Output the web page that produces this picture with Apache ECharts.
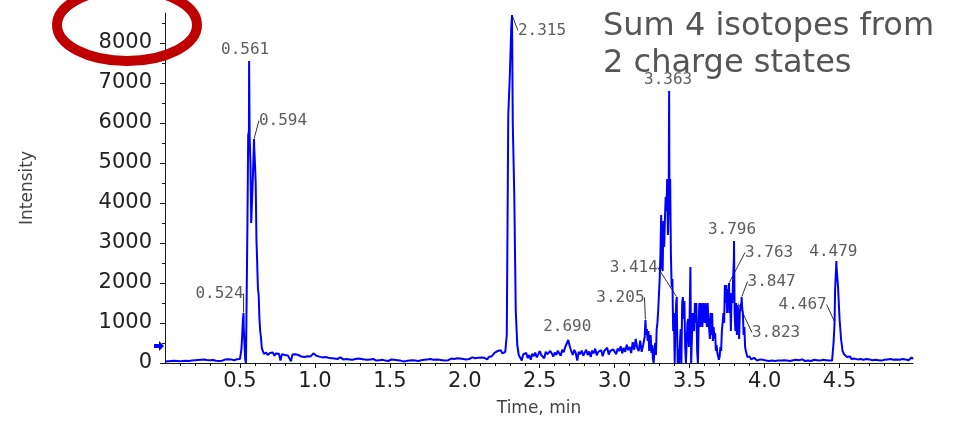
<!DOCTYPE html>
<html>
<head>
<meta charset="utf-8">
<script src="https://cdn.jsdelivr.net/npm/echarts@6/dist/echarts.min.js"></script>
<style>
  html, body { margin: 0; padding: 0; background: #ffffff; }
  #chart { width: 955px; height: 423px; }
</style>
</head>
<body>
<div id="chart"></div>
<script>
// Extracted ion chromatogram: summed intensity of 4 isotopes from 2 charge states.
// Scans are stored per time segment (start, step); labelled apex scans are kept separately.

// 0.00 - 0.49 min, every 0.01 min
const scansEarly = [
  40, 55, 45, 60, 50, 45, 55, 40, 50, 60,
  45, 55, 50, 40, 55, 65, 50, 45, 60, 55,
  70, 85, 75, 90, 80, 70, 85, 95, 75, 80,
  70, 60, 75, 65, 55, 60, 50, 65, 55, 70,
  85, 80, 95, 75, 90, 80, 70, 85, 95, 110
];

// 0.500 - 0.695 min, every 0.005 min
const scansPeak1 = [
  100, 150, 350, 700, 1100, 900, 500, 100, 0, 0,
  3500, 5700, 5800, 5600, 5000, 3500, 3450, 4500, 5100, 5400,
  5000, 4500, 3100, 2500, 1850, 1700, 1100, 800, 650, 400,
  320, 280, 230, 180, 220, 260, 230, 200, 170, 210
];

// 0.70 - 3.19 min, every 0.01 min
const scansMid = [
  250, 200, 260, 180, 240, 210, 230, 60, 220, 250,
  200, 240, 190, 230, 40, 210, 180, 220, 170, 200,
  190, 160, 200, 150, 180, 170, 210, 160, 190, 240,
  220, 180, 200, 160, 170, 140, 180, 150, 160, 130,
  140, 120, 150, 110, 130, 100, 120, 140, 110, 90,
  120, 100, 130, 90, 110, 80, 120, 100, 90, 110,
  80, 100, 70, 90, 110, 80, 60, 90, 70, 100,
  80, 60, 90, 70, 50, 80, 90, 60, 70, 50,
  70, 90, 60, 80, 50, 70, 100, 60, 80, 40,
  70, 50, 80, 60, 90, 70, 40, 60, 80, 50,
  60, 70, 50, 80, 60, 90, 70, 100, 60, 80,
  70, 90, 60, 80, 100, 70, 90, 60, 80, 70,
  90, 110, 80, 100, 70, 120, 90, 110, 80, 100,
  120, 90, 130, 100, 110, 140, 100, 120, 90, 130,
  110, 140, 100, 130, 120, 90, 150, 130, 170, 200,
  260, 220, 300, 250, 320, 240, 200, 280, 700, 6200,
  7150, 8400, 6000, 4200, 1300, 450, 200, 150, 60, 220,
  180, 250, 120, 200, 80, 230, 170, 260, 140, 210,
  300, 200, 250, 120, 280, 220, 180, 300, 240, 160,
  260, 200, 310, 240, 180, 330, 270, 400, 450, 575,
  420, 300, 200, 330, 250, 60, 280, 220, 310, 180,
  260, 330, 200, 290, 150, 310, 240, 360, 190, 280,
  230, 320, 170, 300, 260, 380, 210, 300, 250, 340,
  280, 220, 360, 300, 420, 240, 380, 280, 460, 320,
  400, 250, 520, 330, 600, 380, 300, 560, 280, 450
];

// 3.200 - 3.895 min, every 0.005 min
const scansDense = [
  650, 1075, 700, 850, 550, 800, 300, 600, 700, 250,
  450, 100, 0, 350, 500, 200, 850, 1000, 1300, 1700,
  2100, 2700, 3700, 2400, 2300, 3550, 2900, 3600, 4150, 3800,
  4600, 3200, 3900, 4500, 4600, 2700, 1900, 2100, 800, 1250,
  0, 900, 1500, 1200, 0, 350, 0, 500, 850, 0,
  1500, 1650, 1100, 1550, 400, 0, 0, 1000, 1100, 400,
  1200, 2400, 0, 600, 1250, 900, 800, 1500, 1000, 1500,
  300, 0, 1000, 1500, 900, 1500, 1500, 900, 1500, 1500,
  1000, 1500, 1500, 900, 1500, 1100, 1100, 600, 1250, 700,
  1250, 550, 900, 600, 750, 300, 450, 250, 200, 80,
  150, 400, 300, 800, 1000, 1250, 1000, 1950, 1500, 1950,
  1250, 1850, 1500, 1250, 1750, 800, 1750, 1500, 2100, 2600,
  1250, 800, 1500, 700, 1450, 1300, 600, 1300, 1250, 1500,
  1400, 1250, 700, 900, 400, 300, 250, 150, 200, 120
];

// 3.90 - 4.99 min, every 0.01 min
const scansLate = [
  160, 90, 40, 130, 160, 60, 40, 90, 60, 80,
  40, 60, 80, 50, 70, 60, 90, 50, 70, 60,
  80, 60, 50, 70, 90, 60, 80, 50, 60, 70,
  60, 80, 50, 70, 60, 90, 70, 50, 80, 60,
  70, 50, 60, 80, 60, 70, 50, 60, 70, 80,
  60, 70, 50, 60, 40, 60, 500, 1800, 2400, 1900,
  1100, 600, 300, 220, 180, 150, 120, 160, 100, 140,
  110, 150, 90, 130, 100, 140, 80, 120, 100, 130,
  90, 110, 70, 100, 80, 110, 70, 90, 60, 100,
  80, 60, 90, 70, 100, 60, 80, 70, 90, 60,
  80, 70, 100, 60, 90, 80, 70, 110, 140, 100
];

// Labelled apex scans (retention time in min, intensity)
const apexTimes  = [0.524, 0.561, 0.594, 2.315, 2.690, 3.205, 3.363, 3.414, 3.763, 3.796, 3.823, 3.847, 4.467, 4.479];
const apexValues = [1250, 7550, 5600, 8700, 575, 1075, 6800, 1650, 2000, 3050, 1500, 1650, 1025, 2550];

// Axis ticks
const yTickLabels = [0, 1000, 2000, 3000, 4000, 5000, 6000, 7000, 8000];
const yMinorTicks = [500, 1500, 2500, 3500, 4500, 5500, 6500, 7500, 8500];
const xTickLabels = [0.5, 1.0, 1.5, 2.0, 2.5, 3.0, 3.5, 4.0, 4.5];
const thresholdLevel = 425;

// Label placement for each apex: [dx, dy, show leader line]
const apexLabelShift = [
  [-24, -11, true], [-4, -3, false], [29, -10, true], [30, 24, true],
  [-1, -5, false], [-25, -14, true], [-1, -3, false], [-43, -21, true],
  [40, -22, true], [-2, -3, false], [38, 38, true], [30, -7, true],
  [-32, -9, true], [-3, -1, false]
];

// minor x ticks every 0.1 min between the labelled ones
const xMinorTicks = [];
for (let k = 1; k < 50; k++) {
  if (k % 5 !== 0) xMinorTicks.push(+(k / 10).toFixed(1));
}

// Build the trace: segment scans plus apex scans, in time order
const segments = [
  [0.0, 0.01, scansEarly],
  [0.5, 0.005, scansPeak1],
  [0.7, 0.01, scansMid],
  [3.2, 0.005, scansDense],
  [3.9, 0.01, scansLate]
];
const trace = [];
segments.forEach(([start, step, values]) => {
  values.forEach((v, i) => {
    const t = +(start + i * step).toFixed(3);
    if (!apexTimes.some(a => Math.abs(a - t) < 1e-6)) trace.push([t, v]);
  });
});
apexTimes.forEach((t, i) => trace.push([t, apexValues[i]]));
trace.sort((a, b) => a[0] - b[0]);

const axisColor = '#1a1a1a';
const chart = echarts.init(document.getElementById('chart'), null, { renderer: 'canvas' });

chart.setOption({
  animation: false,
  grid: { left: 165, right: 42, top: 13, bottom: 60, containLabel: false, outerBoundsMode: 'none' },
  xAxis: [
    {
      type: 'value', min: 0, max: 4.99, position: 'bottom',
      name: 'Time, min', nameLocation: 'middle', nameGap: 37,
      nameTextStyle: { fontFamily: 'DejaVu Sans', fontSize: 17, color: '#444' },
      axisLine: { show: true, lineStyle: { color: axisColor, width: 1 } },
      splitLine: { show: false },
      axisTick: { show: true, length: 5, customValues: xTickLabels, lineStyle: { color: axisColor } },
      axisLabel: { customValues: xTickLabels, formatter: v => v.toFixed(1),
                   fontFamily: 'DejaVu Sans', fontSize: 21, color: '#222', margin: 8 }
    },
    {
      type: 'value', min: 0, max: 4.99, position: 'bottom',
      axisLine: { show: false }, splitLine: { show: false }, axisLabel: { show: false },
      axisTick: { show: true, length: 3, customValues: xMinorTicks, lineStyle: { color: axisColor } }
    }
  ],
  yAxis: [
    {
      type: 'value', min: 0, max: 8750, position: 'left',
      name: 'Intensity', nameLocation: 'middle', nameGap: 129, nameRotate: 90,
      nameTextStyle: { fontFamily: 'DejaVu Sans', fontSize: 17, color: '#444' },
      axisLine: { show: true, lineStyle: { color: axisColor, width: 1 } },
      splitLine: { show: false },
      axisTick: { show: true, length: 5, customValues: yTickLabels, lineStyle: { color: axisColor } },
      axisLabel: { customValues: yTickLabels, formatter: v => String(v),
                   fontFamily: 'DejaVu Sans', fontSize: 21, color: '#222', margin: 13 }
    },
    {
      type: 'value', min: 0, max: 8750, position: 'left',
      axisLine: { show: false }, splitLine: { show: false }, axisLabel: { show: false },
      axisTick: { show: true, length: 3, customValues: yMinorTicks, lineStyle: { color: axisColor } }
    }
  ],
  series: [
    {
      type: 'line', xAxisIndex: 0, yAxisIndex: 0,
      data: trace, showSymbol: false, symbol: 'none',
      lineStyle: { color: '#0000ff', width: 2 },
      silent: true,
      markPoint: {
        symbol: 'path://M0,3 L5,3 L5,0 L10,5 L5,10 L5,7 L0,7 Z',
        symbolSize: [10, 10], symbolOffset: [-6, 0],
        itemStyle: { color: '#0000ff' }, label: { show: false },
        data: [{ coord: [0, thresholdLevel] }]
      }
    },
    {
      type: 'scatter', xAxisIndex: 0, yAxisIndex: 0,
      symbolSize: 1, itemStyle: { color: 'rgba(0,0,0,0)' }, silent: true,
      data: apexTimes.map((t, i) => ({
        value: [t, apexValues[i]],
        labelLine: { show: apexLabelShift[i][2] }
      })),
      label: {
        show: true, position: 'top', distance: 0,
        formatter: p => p.value[0].toFixed(3),
        fontFamily: 'DejaVu Sans Mono', fontSize: 16, color: '#333'
      },
      labelLine: { show: true, lineStyle: { color: '#333', width: 1 } },
      labelLayout: p => ({ dx: apexLabelShift[p.dataIndex][0], dy: apexLabelShift[p.dataIndex][1], hideOverlap: false })
    }
  ],
  graphic: [
    {
      type: 'ellipse', z: 100,
      shape: { cx: 127, cy: 25, rx: 70, ry: 36 },
      style: { fill: 'none', stroke: '#c00000', lineWidth: 10 }
    },
    {
      type: 'text', left: 603, top: 8, z: 100,
      style: { text: 'Sum 4 isotopes from\n2 charge states', font: '32px "DejaVu Sans"', fill: '#555', lineHeight: 37 }
    }
  ]
});
</script>
</body>
</html>
